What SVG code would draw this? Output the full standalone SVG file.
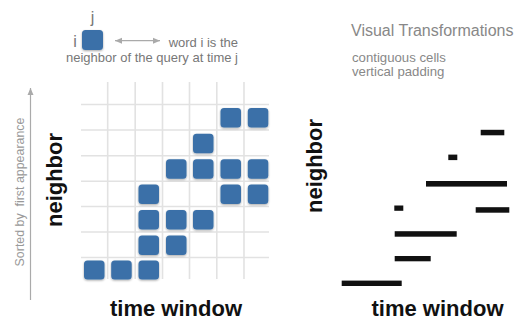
<svg xmlns="http://www.w3.org/2000/svg" width="519" height="320" viewBox="0 0 519 320">
<style>
text{font-family:"Liberation Sans",Arial,Helvetica,sans-serif}
.lt{fill:#777;font-size:13px}
.hd{fill:#888;font-size:16px}
.sub{fill:#888;font-size:13.2px}
.big{fill:#111;font-size:22px;font-weight:bold}
.grid line{stroke:#e2e2e2;stroke-width:1.6}
.cell{fill:#3b70a8;filter:url(#sh)}
.bar{fill:#111}
.ax{stroke:#aaa;stroke-width:1.2;fill:none}
</style>
<defs>
<filter id="sh" x="-20%" y="-20%" width="140%" height="150%">
<feDropShadow dx="0" dy="1" stdDeviation="0.8" flood-color="#000" flood-opacity="0.35"/>
</filter>
<marker id="ah" markerWidth="8" markerHeight="8" refX="7" refY="4" orient="auto-start-reverse" markerUnits="userSpaceOnUse">
<path d="M0,1 L7,4 L0,7 Z" fill="#aaa"/>
</marker>
</defs>
<rect width="519" height="320" fill="#fff"/>

<g id="legend">
<text class="lt" x="92.5" y="23" text-anchor="middle" style="font-size:16px">j</text>
<text class="lt" x="75" y="46.5" text-anchor="middle" style="font-size:16px">i</text>
<rect class="cell" x="82" y="30" width="21" height="20" rx="3.5"/>
<text class="lt" x="238" y="46.5" text-anchor="end">word i is the</text>
<text class="lt" x="238" y="62" text-anchor="end">neighbor of the query at time j</text>
</g>

<g id="connectors">
<line class="ax" x1="115" y1="40.7" x2="160" y2="40.7" marker-start="url(#ah)" marker-end="url(#ah)"/>
<line class="ax" x1="30.5" y1="300" x2="30.5" y2="88" marker-end="url(#ah)"/>
</g>

<g id="header">
<text class="hd" x="351" y="36">Visual Transformations</text>
<text class="sub" x="352" y="62">contiguous cells</text>
<text class="sub" x="352" y="75.5">vertical padding</text>
</g>

<g id="grid" class="grid">
<line x1="107.7" y1="82" x2="107.7" y2="279"/>
<line x1="135.2" y1="82" x2="135.2" y2="279"/>
<line x1="162.5" y1="82" x2="162.5" y2="279"/>
<line x1="189.5" y1="82" x2="189.5" y2="279"/>
<line x1="216.8" y1="82" x2="216.8" y2="279"/>
<line x1="244" y1="82" x2="244" y2="279"/>
<line x1="81" y1="104.5" x2="269" y2="104.5"/>
<line x1="81" y1="130" x2="269" y2="130"/>
<line x1="81" y1="155.7" x2="269" y2="155.7"/>
<line x1="81" y1="181.3" x2="269" y2="181.3"/>
<line x1="81" y1="206.5" x2="269" y2="206.5"/>
<line x1="81" y1="232" x2="269" y2="232"/>
<line x1="81" y1="257.5" x2="269" y2="257.5"/>
</g>

<g id="cells">
<rect class="cell" x="220.5" y="108" width="20.5" height="19.5" rx="3.5"/>
<rect class="cell" x="247.8" y="108" width="20.5" height="19.5" rx="3.5"/>
<rect class="cell" x="193" y="133.8" width="20.5" height="19.5" rx="3.5"/>
<rect class="cell" x="166" y="159.2" width="20.5" height="19.5" rx="3.5"/>
<rect class="cell" x="193" y="159.2" width="20.5" height="19.5" rx="3.5"/>
<rect class="cell" x="220.5" y="159.2" width="20.5" height="19.5" rx="3.5"/>
<rect class="cell" x="247.8" y="159.2" width="20.5" height="19.5" rx="3.5"/>
<rect class="cell" x="138.5" y="184.5" width="20.5" height="19.5" rx="3.5"/>
<rect class="cell" x="220.5" y="184.5" width="20.5" height="19.5" rx="3.5"/>
<rect class="cell" x="247.8" y="184.5" width="20.5" height="19.5" rx="3.5"/>
<rect class="cell" x="138.5" y="210" width="20.5" height="19.5" rx="3.5"/>
<rect class="cell" x="166" y="210" width="20.5" height="19.5" rx="3.5"/>
<rect class="cell" x="193" y="210" width="20.5" height="19.5" rx="3.5"/>
<rect class="cell" x="138.5" y="235.5" width="20.5" height="19.5" rx="3.5"/>
<rect class="cell" x="166" y="235.5" width="20.5" height="19.5" rx="3.5"/>
<rect class="cell" x="84" y="260.5" width="20.5" height="19" rx="3.5"/>
<rect class="cell" x="111.2" y="260.5" width="20.5" height="19" rx="3.5"/>
<rect class="cell" x="138.5" y="260.5" width="20.5" height="19" rx="3.5"/>
</g>

<g id="left-labels">
<text x="0" y="0" fill="#999" font-size="12.4" text-anchor="middle" style="white-space:pre" transform="translate(24,192) rotate(-90)">Sorted by  first appearance</text>
<text class="big" font-size="21.5" text-anchor="middle" transform="translate(62,180) rotate(-90)">neighbor</text>
<text class="big" x="176" y="316" text-anchor="middle">time window</text>
</g>

<g id="bars">
<rect class="bar" x="480.7" y="129.8" width="23.6" height="5.5"/>
<rect class="bar" x="448.3" y="154.6" width="9" height="5.5"/>
<rect class="bar" x="426" y="181" width="81" height="5.6"/>
<rect class="bar" x="394.3" y="205.5" width="9" height="5.3"/>
<rect class="bar" x="475.7" y="207.2" width="33.6" height="5.5"/>
<rect class="bar" x="394.7" y="231.2" width="62" height="5.5"/>
<rect class="bar" x="394.7" y="256" width="36" height="5.3"/>
<rect class="bar" x="341.7" y="280.6" width="60" height="5.4"/>
</g>

<g id="right-labels">
<text class="big" font-size="21.5" text-anchor="middle" transform="translate(322,166) rotate(-90)">neighbor</text>
<text class="big" x="437.5" y="316" text-anchor="middle">time window</text>
</g>
</svg>
